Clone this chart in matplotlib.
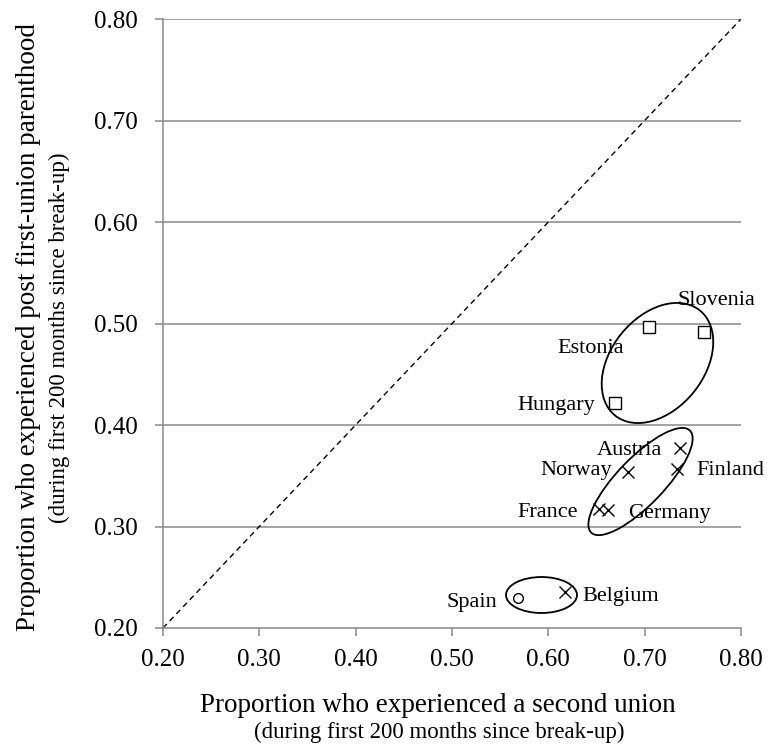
import matplotlib
matplotlib.use("Agg")
import matplotlib.pyplot as plt
from matplotlib.patches import Ellipse
from matplotlib.transforms import ScaledTranslation

plt.rcParams['font.family'] = ['Liberation Serif', 'DejaVu Serif']

# values
countries = ['Slovenia', 'Estonia', 'Hungary', 'Austria', 'Norway',
             'Finland', 'France', 'Germany', 'Spain', 'Belgium']
second_union = [0.762, 0.705, 0.669, 0.737, 0.683, 0.734, 0.653, 0.662, 0.568, 0.617]
parenthood = [0.492, 0.497, 0.422, 0.377, 0.354, 0.357, 0.317, 0.316, 0.230, 0.235]
marker_kind = ['s', 's', 's', 'x', 'x', 'x', 'x', 'x', 'o', 'x']

ticks = [0.20, 0.30, 0.40, 0.50, 0.60, 0.70, 0.80]
tick_labels = ['%.2f' % t for t in ticks]

# label placement: offset in pixels from the marker, alignment
label_offsets = [(-27, 27), (-25, -26), (-20, -7), (-18, -7), (-16, -3),
                 (19, -6), (-22, -8), (20, -8), (-20, -9), (18, -9)]
label_ha = ['left', 'right', 'right', 'right', 'right',
            'left', 'right', 'left', 'right', 'left']

# group ellipses: centre (data), width / height (pixels), angle
groups = [((0.7133, 0.4611), 135, 93, 51),
          ((0.6957, 0.3443), 142, 47, 46),
          ((0.5929, 0.2325), 71, 36, 0)]

grey = '#898989'

fig = plt.figure(figsize=(7.72, 7.54), dpi=100)
ax = fig.add_axes([163/772, 1 - 628/754, (741-163)/772, (628-19)/754])

for y in ticks[1:]:
    ax.axhline(y, color=grey, lw=1.1, zorder=1)

ax.plot([0.2, 0.8], [0.2, 0.8], color='black', lw=1.0, ls=(0, (4, 3)), zorder=2)

for x, y, m in zip(second_union, parenthood, marker_kind):
    if m == 's':
        ax.plot(x, y, marker='s', ms=8.5, mfc='white', mec='black', mew=1.0, zorder=4)
    elif m == 'o':
        ax.plot(x, y, marker='o', ms=7, mfc='white', mec='black', mew=1.0, zorder=4)
    else:
        ax.plot(x, y, marker='x', ms=8, color='black', mew=1.0, zorder=4)

for name, x, y, off, ha in zip(countries, second_union, parenthood, label_offsets, label_ha):
    ax.annotate(name, (x, y), xytext=off, textcoords='offset pixels',
                ha=ha, va='baseline', fontsize=16, zorder=5)

for (cx, cy), w, h, ang in groups:
    tr = fig.dpi_scale_trans + ScaledTranslation(cx, cy, ax.transData)
    e = Ellipse((0, 0), w / 100, h / 100, angle=ang, transform=tr,
                fill=False, ec='black', lw=1.3, zorder=3)
    ax.add_artist(e)

ax.set_xlim(0.2, 0.8)
ax.set_ylim(0.2, 0.8)
ax.set_xticks(ticks)
ax.set_xticklabels(tick_labels)
ax.set_yticks(ticks)
ax.set_yticklabels(tick_labels)
ax.tick_params(axis='both', direction='out', length=6, width=1.1, color=grey,
               labelsize=18)
ax.tick_params(axis='y', pad=12)
ax.tick_params(axis='x', pad=9)
for s in ['top', 'right']:
    ax.spines[s].set_visible(False)
for s in ['left', 'bottom']:
    ax.spines[s].set_color(grey)
    ax.spines[s].set_linewidth(1.1)

fig.text(438/772, 1 - 712/754, 'Proportion who experienced a second union',
         ha='center', va='baseline', fontsize=19.5)
fig.text(439/772, 1 - 738/754, '(during first 200 months since break-up)',
         ha='center', va='baseline', fontsize=16.5)
fig.text(29/772, 1 - 327/754, 'Proportion who experienced post first-union parenthood',
         ha='center', va='center', rotation=90, fontsize=19.5)
fig.text(59/772, 1 - 338/754, '(during first 200 months since break-up)',
         ha='center', va='center', rotation=90, fontsize=16.5)

fig.savefig('out.png', dpi=100)
